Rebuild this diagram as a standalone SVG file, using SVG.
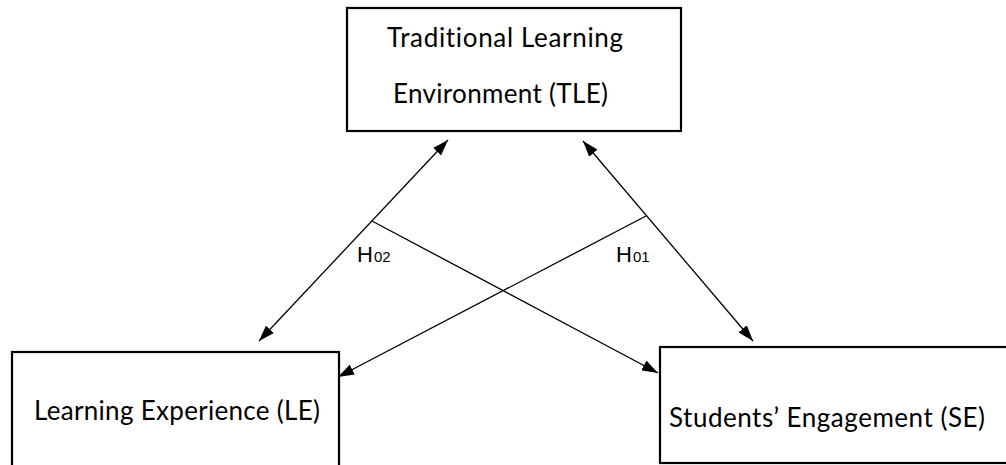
<svg xmlns="http://www.w3.org/2000/svg" width="1006" height="465" viewBox="0 0 1006 465">
  <defs>
    <marker id="head" viewBox="0 0 16 11" refX="16" refY="5.5" markerWidth="16" markerHeight="11" markerUnits="userSpaceOnUse" orient="auto-start-reverse">
      <path d="M0,0 L16,5.5 L0,11 Z" fill="#000"/>
    </marker>
    <style>
      .box { fill: #fff; stroke: #000; stroke-width: 2.2; }
      .label { font-family: Lato, "Open Sans", "Liberation Sans", sans-serif; font-size: 26px; fill: #000; font-variant-ligatures: none; }
      .hyp { font-family: "Liberation Sans", Arial, sans-serif; font-size: 22px; fill: #000; }
      .sub { font-size: 15px; }
      .link { stroke: #000; stroke-width: 1.3; fill: none; }
    </style>
  </defs>
  <rect width="1006" height="465" fill="#fff"/>

  <g id="tle">
    <rect class="box" x="347" y="8" width="334" height="123"/>
    <text class="label" x="387" y="47" textLength="236">Traditional Learning</text>
    <text class="label" x="393" y="103" textLength="215">Environment (TLE)</text>
  </g>

  <g id="le">
    <rect class="box" x="12" y="352" width="327" height="130"/>
    <text class="label" x="34" y="420" textLength="286">Learning Experience (LE)</text>
  </g>

  <g id="se">
    <rect class="box" x="660" y="347" width="360" height="116"/>
    <text class="label" x="669" y="427" textLength="316">Students’ Engagement (SE)</text>
  </g>

  <g id="connectors">
    <!-- H02: TLE <-> LE -->
    <line class="link" x1="448" y1="140" x2="259" y2="341" marker-start="url(#head)" marker-end="url(#head)"/>
    <!-- H01: TLE <-> SE -->
    <line class="link" x1="583" y1="141" x2="753" y2="341" marker-start="url(#head)" marker-end="url(#head)"/>
    <!-- cross links -->
    <line class="link" x1="372" y1="221" x2="658" y2="373" marker-end="url(#head)"/>
    <line class="link" x1="646" y1="216" x2="338" y2="377" marker-end="url(#head)"/>
  </g>

  <g id="hypotheses">
    <text class="hyp" x="357" y="262">H<tspan class="sub" dx="1">02</tspan></text>
    <text class="hyp" x="616" y="262">H<tspan class="sub" dx="1">01</tspan></text>
  </g>
</svg>
